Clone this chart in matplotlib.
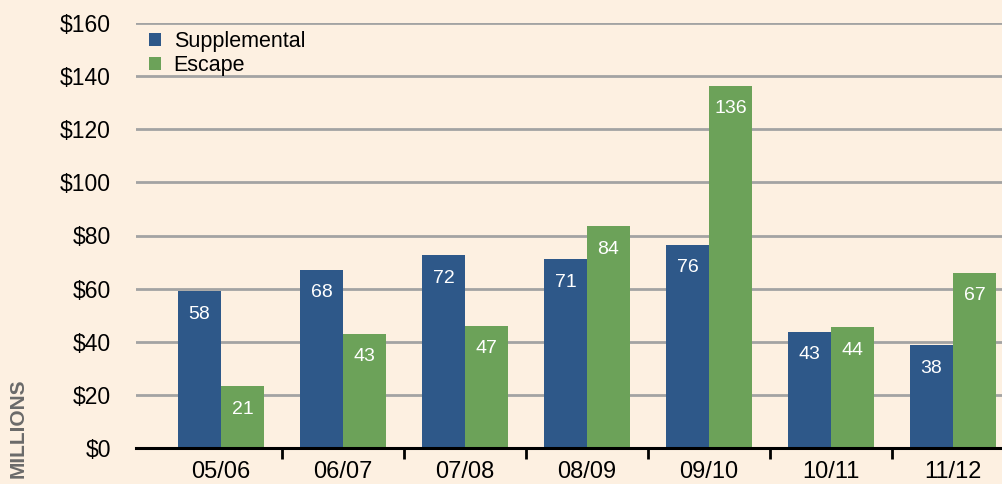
import numpy as np
import matplotlib
matplotlib.use("Agg")
import matplotlib.pyplot as plt
from matplotlib.ticker import FixedLocator, NullFormatter

# -----------------------------
# Datos
# -----------------------------
years = ["05/06", "06/07", "07/08", "08/09", "09/10", "10/11", "11/12"]
supplemental = [59, 67, 72.5, 71, 76.5, 43.7, 38.7]
escape = [23.2, 43, 46, 83.5, 136.3, 45.5, 66]
supplemental_labels = ["58", "68", "72", "71", "76", "43", "38"]
escape_labels = ["21", "43", "47", "84", "136", "44", "67"]
yticks = [0, 20, 40, 60, 80, 100, 120, 140, 160]

# -----------------------------
# Estilo
# -----------------------------
bg = "#fdf0e1"
blue = "#2e5889"
green = "#6ca259"
plt.rcParams["font.family"] = ["Liberation Sans", "DejaVu Sans"]

W, H = 1003, 484
fig = plt.figure(figsize=(W / 100, H / 100), dpi=100)
fig.patch.set_facecolor(bg)

ax = fig.add_axes([136 / W, 36 / H, (W - 136) / W, 425 / H])
ax.set_facecolor(bg)

x = np.arange(len(years))
bw = 0.352

b1 = ax.bar(x - bw / 2, supplemental, bw, color=blue, label="Supplemental", zorder=3)
b2 = ax.bar(x + bw / 2, escape, bw, color=green, label="Escape", zorder=3)

# etiquetas dentro de las barras
for bars, labels in [(b1, supplemental_labels), (b2, escape_labels)]:
    for rect, lab in zip(bars, labels):
        ax.annotate(lab, (rect.get_x() + rect.get_width() / 2, rect.get_height()),
                    xytext=(0, -16.5), textcoords="offset points",
                    ha="center", va="center", color="white", fontsize=14, zorder=4)

ax.set_xlim(-0.697, 6.41)
ax.set_ylim(0, 160)

# rejilla horizontal
ax.set_yticks(yticks)
ax.set_yticklabels([f"${v}" for v in yticks], fontsize=16.5)
ax.yaxis.grid(True, color="#a3a3a3", linewidth=2, zorder=1)
ax.tick_params(axis="y", length=0, pad=18)

# eje x: etiquetas centradas, marcas entre grupos
ax.set_xticks(x)
ax.set_xticklabels(years, fontsize=17)
ax.xaxis.set_minor_locator(FixedLocator(np.arange(0.5, 7, 1)))
ax.xaxis.set_minor_formatter(NullFormatter())
ax.tick_params(axis="x", which="major", length=0, pad=9)
ax.tick_params(axis="x", which="minor", length=8, width=2, color="black", direction="out")

for s in ["top", "right", "left"]:
    ax.spines[s].set_visible(False)
ax.spines["bottom"].set_linewidth(2.2)
ax.spines["bottom"].set_zorder(5)

leg = ax.legend(loc="upper left", bbox_to_anchor=(0.0, 1.012), frameon=False,
                fontsize=15.5, handlelength=0.55, handleheight=0.55,
                handletextpad=0.6, labelspacing=0.15, borderaxespad=0.2)

fig.text(18 / W, 1 - 428 / H, "MILLIONS", rotation=90, ha="center", va="center",
         fontsize=15, fontweight="bold", color="#6a6a6a")

plt.savefig("out.png", dpi=100, facecolor=bg)
plt.close()
